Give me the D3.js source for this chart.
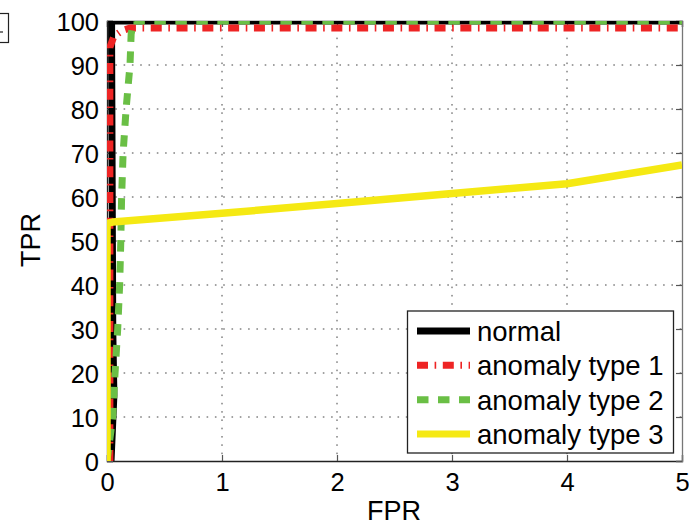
<!DOCTYPE html>
<html>
<head>
<meta charset="utf-8">
<script src="https://d3js.org/d3.v7.min.js"></script>
<style>
  body { margin: 0; background: #fff; }
  svg { display: block; font-family: "Liberation Sans", Arial, sans-serif; }
</style>
</head>
<body>
<svg id="chart"></svg>
<script>
	// values
	const xTicks = [0, 1, 2, 3, 4, 5];
	const yTicks = [0, 10, 20, 30, 40, 50, 60, 70, 80, 90, 100];

	const normalFpr = [0.035, 0.06, 0.05, 0.04, 0.04, 5];
	const normalTpr = [0, 15, 30, 95, 100, 100];

	const type1Fpr = [0.025, 0.025, 0.06, 0.13, 0.2, 5];
	const type1Tpr = [0, 94, 96.5, 97.8, 98.4, 98.4];

	const type2Fpr = [0, 0.05, 0.07, 0.093, 0.11, 0.12, 0.127, 0.14, 0.166, 0.2, 0.21, 0.23, 5];
	const type2Tpr = [0, 10, 20, 30, 40, 50, 60, 70, 80, 90, 97, 100, 100];

	const type3Fpr = [0, 0, 0.05, 1, 2, 3, 4, 5];
	const type3Tpr = [0, 54, 54.3, 56.3, 58.5, 60.8, 63, 67.3];

	const seriesNames = ["normal", "anomaly type 1", "anomaly type 2", "anomaly type 3"];

	const W = 689, H = 521;
	const pLeft = 107, pRight = 682, pTop = 21, pBottom = 461;

	const svg = d3.select("#chart").attr("width", W).attr("height", H);

	const xscale = d3.scaleLinear().domain([0, 5]).range([pLeft, pRight]);
	const yscale = d3.scaleLinear().domain([0, 100]).range([pBottom, pTop]);

	// clipped box piece at the far left
	svg.append("rect")
		.attr("x", -20).attr("y", 13.5)
		.attr("width", 28.5).attr("height", 29)
		.attr("fill", "none").attr("stroke", "#222").attr("stroke-width", 1.2);
	svg.append("line")
		.attr("x1", 0).attr("x2", 3).attr("y1", 32).attr("y2", 32)
		.attr("stroke", "#222").attr("stroke-width", 1.2);

	// grid
	const grid = svg.append("g")
		.attr("stroke", "#444").attr("stroke-width", 1)
		.attr("stroke-dasharray", "1.6,6.7");
	grid.selectAll(".gx")
		.data(xTicks.slice(1, -1))
		.enter().append("line")
		.attr("x1", d => xscale(d)).attr("x2", d => xscale(d))
		.attr("y1", pTop).attr("y2", pBottom);
	grid.selectAll(".gy")
		.data(yTicks.slice(1, -1))
		.enter().append("line")
		.attr("x1", pLeft).attr("x2", pRight)
		.attr("y1", d => yscale(d)).attr("y2", d => yscale(d));

	// axes with inward ticks
	const axisB = svg.append("g").attr("transform", `translate(0,${pBottom})`)
		.call(d3.axisBottom(xscale).tickValues(xTicks).tickFormat(d3.format("d"))
			.tickSize(-6).tickPadding(12));
	const axisT = svg.append("g").attr("transform", `translate(0,${pTop})`)
		.call(d3.axisTop(xscale).tickValues(xTicks).tickSize(-6).tickFormat(""));
	const axisL = svg.append("g").attr("transform", `translate(${pLeft},0)`)
		.call(d3.axisLeft(yscale).tickValues(yTicks).tickFormat(d3.format("d"))
			.tickSize(-6).tickPadding(8));
	const axisR = svg.append("g").attr("transform", `translate(${pRight},0)`)
		.call(d3.axisRight(yscale).tickValues(yTicks).tickSize(-6).tickFormat(""));

	[axisB, axisT, axisL, axisR].forEach(a => {
		a.select(".domain").attr("stroke", "#222").attr("stroke-width", 1.3);
		a.selectAll(".tick line").attr("stroke", "#555").attr("stroke-width", 1.2);
		a.selectAll("text").attr("font-size", 25.5).attr("fill", "#000")
			.attr("font-family", "'Liberation Sans', Arial, sans-serif");
	});
	axisR.select(".domain").attr("stroke", "#777");
	axisB.selectAll("text").attr("dy", "0.71em");
	axisL.selectAll("text").attr("dy", "0.36em");

	// curves, clipped to the axes box
	svg.append("clipPath").attr("id", "plotclip")
		.append("rect")
		.attr("x", pLeft).attr("y", pTop)
		.attr("width", pRight - pLeft).attr("height", pBottom - pTop);

	const line = d3.line().x(d => xscale(d[0])).y(d => yscale(d[1]));
	const zip = (a, b) => a.map((v, i) => [v, b[i]]);

	const styles = [
		{ data: zip(normalFpr, normalTpr), color: "#000000", width: 7, dash: null },
		{ data: zip(type1Fpr, type1Tpr), color: "#ee2424", width: 7, dash: "11,6.6,1.6,6.6" },
		{ data: zip(type2Fpr, type2Tpr), color: "#6abf45", width: 7, dash: "11.5,9.5" },
		{ data: zip(type3Fpr, type3Tpr), color: "#f5e913", width: 7.5, dash: null }
	];

	const plot = svg.append("g").attr("clip-path", "url(#plotclip)");
	styles.forEach(s => {
		plot.append("path")
			.datum(s.data)
			.attr("fill", "none")
			.attr("stroke", s.color)
			.attr("stroke-width", s.width)
			.attr("stroke-dasharray", s.dash)
			.attr("stroke-linejoin", "round")
			.attr("d", line);
	});

	// axis labels
	svg.append("text")
		.attr("x", 394).attr("y", 520)
		.attr("text-anchor", "middle")
		.attr("font-size", 27)
		.text("FPR");
	svg.append("text")
		.attr("transform", "translate(40,240) rotate(-90)")
		.attr("text-anchor", "middle")
		.attr("font-size", 27)
		.text("TPR");

	// legend
	const legend = svg.append("g");
	legend.append("rect")
		.attr("x", 407.5).attr("y", 311)
		.attr("width", 266).attr("height", 142)
		.attr("fill", "#fff").attr("stroke", "#222").attr("stroke-width", 1.3);

	const rowY = d3.scalePoint().domain(seriesNames).range([331, 434]);
	seriesNames.forEach((name, i) => {
		const s = styles[i];
		legend.append("line")
			.attr("x1", 417).attr("x2", 470)
			.attr("y1", rowY(name)).attr("y2", rowY(name))
			.attr("stroke", s.color)
			.attr("stroke-width", 7)
			.attr("stroke-dasharray", s.dash);
		legend.append("text")
			.attr("x", 477).attr("y", rowY(name))
			.attr("dy", "0.36em")
			.attr("font-size", 27.5)
			.text(name);
	});
</script>
</body>
</html>
